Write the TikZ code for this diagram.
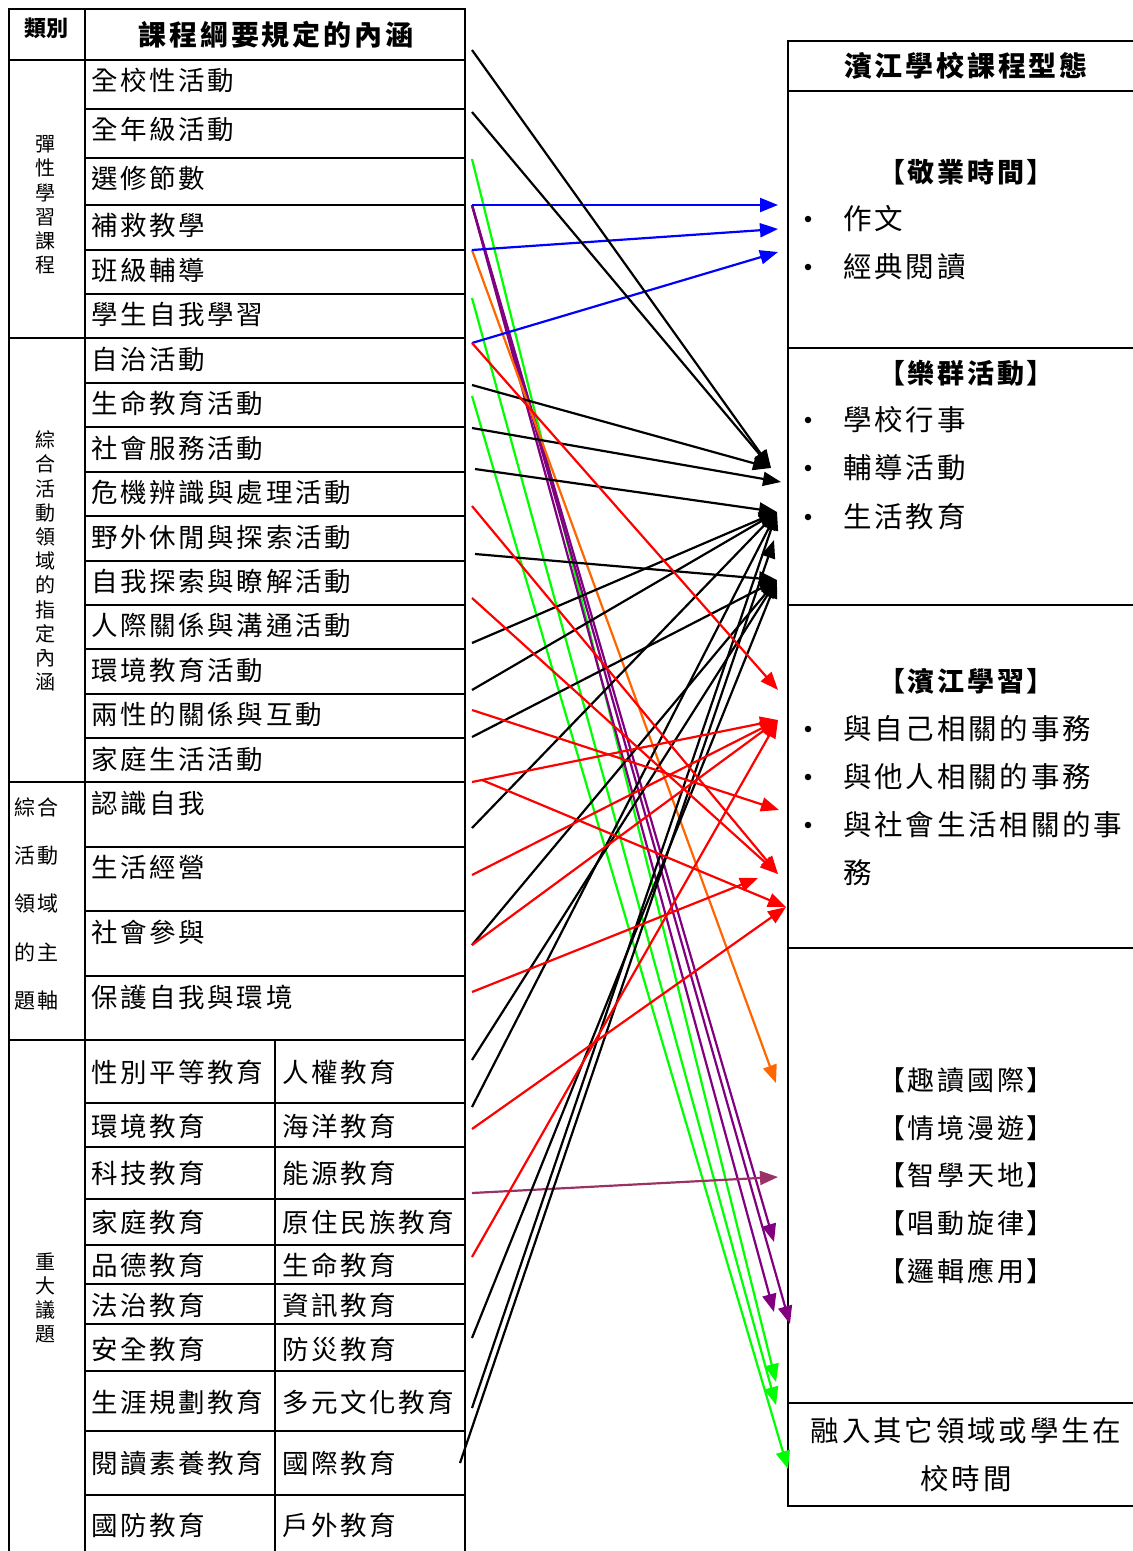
\documentclass[tikz,border=0pt]{standalone}
\usepackage{fontspec}
\newfontfamily\cjk[LetterSpace=10]{Noto Sans CJK TC}
\newfontfamily\cjkv{Noto Sans CJK TC}
\usetikzlibrary{arrows.meta}
\definecolor{linkblue}{RGB}{0,0,255}
\definecolor{linkred}{RGB}{255,0,0}
\definecolor{linkgreen}{RGB}{0,255,0}
\definecolor{linkorange}{RGB}{255,102,0}
\definecolor{linkpurple}{RGB}{128,0,128}
\definecolor{linkplum}{RGB}{153,51,102}
\tikzset{
	rule/.style={line width=2.2pt},
	link/.style={line width=2.2pt,-{Triangle[length=18pt,width=14pt]}},
	item/.style={anchor=west,inner sep=0pt,font=\fontsize{26.5}{30}\cjk},
	pick/.style={anchor=west,inner sep=0pt,font=\fontsize{28.5}{32}\cjk},
	head/.style={inner sep=0pt,font=\fontsize{28}{32}\cjk\bfseries},
	title/.style={inner sep=0pt,font=\fontsize{27}{30}\cjk\bfseries},
	brack/.style={inner sep=0pt,font=\fontsize{27}{30}\cjk},
	vlab/.style={inner sep=0pt,align=center,font=\fontsize{20}{24.2}\cjkv},
	dot/.style={circle,fill=black,inner sep=0pt,minimum size=6.5pt},
}
\begin{document}
\begin{tikzpicture}[x=1pt,y=-1pt]
		\useasboundingbox (0,0) rectangle (1133,1551);
		
		\draw[rule] (9,1551) -- (9,9) -- (465,9) -- (465,1551);
		\draw[rule] (85,9) -- (85,1551);
		\draw[rule] (275,1040) -- (275,1551);
		\foreach \y in {60,338,782,1040}
		\draw[rule] (9,\y) -- (465,\y);
		\foreach \y in {109,158,205,250,294,383,427,472,516,561,605,649,694,738,847,911,976,1103,1147,1199,1245,1284,1324,1371,1431,1495}
		\draw[rule] (85,\y) -- (465,\y);
		
		\node[inner sep=0pt,font=\fontsize{22}{26}\cjkv\bfseries] (kind) at (46,28) {類別};
		\node[head] (scope) at (276,35) {課程綱要規定的內涵};
		
		\node[vlab] (flex) at (45,205) {彈\\性\\學\\習\\課\\程};
		\node[vlab] (assign) at (45,561) {綜\\合\\活\\動\\領\\域\\的\\指\\定\\內\\涵};
		\node[inner sep=0pt,anchor=west,align=left,font=\fontsize{21}{48.3}\cjk] (axis) at (14,904) {綜合\\活動\\領域\\的主\\題軸};
		\node[vlab] (issue) at (45,1298) {重\\大\\議\\題};
		
		\foreach \y/\t [count=\i] in {80/全校性活動,129/全年級活動,178/選修節數,225/補救教學,270/班級輔導,314/學生自我學習,359/自治活動,403/生命教育活動,448/社會服務活動,492/危機辨識與處理活動,537/野外休閒與探索活動,581/自我探索與瞭解活動,625/人際關係與溝通活動,670/環境教育活動,714/兩性的關係與互動,759/家庭生活活動,803/認識自我,867/生活經營,932/社會參與,997/保護自我與環境}
		\node[item] (c\i) at (91,\y) {\t};
		
		\foreach \y/\a/\b [count=\i] in {1072/性別平等教育/人權教育,1126/環境教育/海洋教育,1173/科技教育/能源教育,1222/家庭教育/原住民族教育,1265/品德教育/生命教育,1305/法治教育/資訊教育,1349/安全教育/防災教育,1402/生涯規劃教育/多元文化教育,1463/閱讀素養教育/國際教育,1525/國防教育/戶外教育}
		{
		\node[item] (ia\i) at (91,\y) {\a};
		\node[item] (ib\i) at (282,\y) {\b};
		}
		
		\draw[rule] (1133,41) -- (788,41) -- (788,1506) -- (1133,1506);
		\foreach \y in {91,348,605,948,1403}
		\draw[rule] (788,\y) -- (1133,\y);
		
		\node[head] (form) at (966,66) {濱江學校課程型態};
		\node[title] (work) at (966,172) {【敬業時間】};
		\node[title] (group) at (966,373) {【樂群活動】};
		\node[title] (learn) at (966,681) {【濱江學習】};
		\foreach \y/\t [count=\i] in {219/作文,267/經典閱讀,420/學校行事,468/輔導活動,517/生活教育,729/與自己相關的事務,777/與他人相關的事務,825/與社會生活相關的事}
		{
		\node[dot] (d\i) at (808,\y) {};
		\node[pick] (p\i) at (843,\y) {\t};
		}
		\node[pick] (p9) at (843,873) {務};
		\foreach \y/\t [count=\i] in {1080/趣讀國際,1128/情境漫遊,1175/智學天地,1223/唱動旋律,1271/邏輯應用}
		\node[brack] (u\i) at (966,\y) {【\t】};
		\node[pick,anchor=center] (mix1) at (966,1431) {融入其它領域或學生在};
		\node[pick,anchor=center] (mix2) at (966,1479) {校時間};
		
		\foreach \i/\x/\y in {1/472/50,2/472/112,3/472/159,4/472/205,5/472/250,6/472/298,7/472/343,8/472/385,9/472/396,10/472/428,11/475/469,12/472/506,13/475/554,14/472/598,15/472/643,16/472/690,17/472/710,18/472/737,19/472/782,20/482/780,21/472/828,22/472/875,23/472/945,24/472/992,25/472/1060,26/472/1107,27/472/1129,28/472/1193,29/472/1257,30/472/1338,31/472/1408,32/460/1463}
		\coordinate (s\i) at (\x,\y);
		
		\coordinate (tk1) at (778,205);
		\coordinate (tk2) at (778,229);
		\coordinate (tk3) at (778,252);
		\coordinate (tg1) at (771,468);
		\coordinate (tg2) at (781,482);
		\coordinate (tg3) at (777,512);
		\coordinate (tg4) at (774,540);
		\coordinate (tg5) at (777,580);
		\coordinate (tb1) at (778,690);
		\coordinate (tb2) at (778,720);
		\coordinate (tb3) at (779,810);
		\coordinate (tb4) at (778,874);
		\coordinate (tb5) at (758,878);
		\coordinate (tb6) at (786,907);
		\coordinate (tq1) at (776,1083);
		\coordinate (tq2) at (778,1177);
		\coordinate (tq3) at (774,1242);
		\coordinate (tq4) at (774,1312);
		\coordinate (tq5) at (790,1324);
		\coordinate (tm1) at (776,1382);
		\coordinate (tm2) at (776,1405);
		\coordinate (tm3) at (788,1469);
		
		\foreach \a/\b in {3/tm1,6/tm2,9/tm3}
		\draw[link,linkgreen] (s\a) -- (\b);
		\foreach \b in {tq3,tq4,tq5}
		\draw[link,linkpurple] (s4) -- (\b);
		\draw[link,linkorange] (s5) -- (tq1);
		\draw[link,linkplum] (s28) -- (tq2);
		\foreach \a/\b in {4/tk1,5/tk2,7/tk3}
		\draw[link,linkblue] (s\a) -- (\b);
		\foreach \a/\b in {1/tg1,2/tg1,8/tg1,10/tg2,11/tg3,15/tg3,16/tg3,21/tg3,26/tg3,31/tg3,32/tg4,13/tg5,18/tg5,23/tg5,25/tg5,30/tg5}
		\draw[link] (s\a) -- (\b);
		\foreach \a/\b in {7/tb1,19/tb2,22/tb2,23/tb2,29/tb2,17/tb3,12/tb4,14/tb4,24/tb5,20/tb6,27/tb6}
		\draw[link,linkred] (s\a) -- (\b);
	\end{tikzpicture}
\end{document}
